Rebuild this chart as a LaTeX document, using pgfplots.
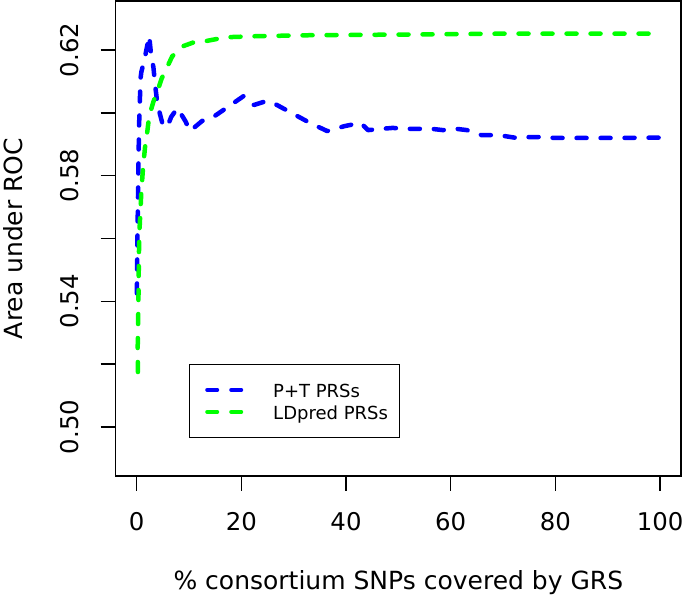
\documentclass[border=0pt]{standalone}
\usepackage{fontspec}
\setmainfont{DejaVu Sans}
\usepackage{pgfplots}
\pgfplotsset{compat=1.18}
\definecolor{rblue}{RGB}{0,0,255}
\definecolor{rgreen}{RGB}{0,255,0}
\begin{document}
\fontsize{12.2}{14}\selectfont
\begin{tikzpicture}
\begin{axis}[
  name=ax,
  at={(0,0)}, anchor=south west,
  scale only axis, width=282.65pt, height=237.5pt,
  xmin=-4, xmax=104, ymin=0.4844, ymax=0.6356,
  axis line style={line width=0.75pt},
  every tick/.style={line width=0.75pt, black},
  major tick length=7.5pt, tick align=outside, tick pos=left,
  xtick={0,20,40,60,80,100}, xticklabels={0,20,40,60,80,100},
  ytick={0.50,0.52,0.54,0.56,0.58,0.60,0.62},
  yticklabels={0.50,,0.54,,0.58,,0.62},
  xticklabel style={anchor=base, inner sep=0pt, yshift=-19.5pt},
  yticklabel style={rotate=90, anchor=base, inner sep=0pt, yshift=11pt},
  xlabel={\% consortium SNPs covered by GRS},
  ylabel={Area under ROC},
  xlabel style={at={(axis description cs:0.5,0)}, anchor=base, inner sep=0pt, yshift=-57pt, font=\fontsize{12.5}{14}\selectfont},
  ylabel style={at={(axis description cs:0,0.5)}, anchor=base, inner sep=0pt, yshift=46.35pt, font=\fontsize{12.5}{14}\selectfont},
  legend style={at={(axis cs:10.05,0.5201)}, anchor=north west, draw=black, line width=0.5pt,
    fill=white, inner xsep=4pt, inner ysep=7.75pt, row sep=1pt, column sep=6.5pt,
    font=\fontsize{9}{11}\selectfont,
    nodes={inner xsep=2pt, inner ysep=0pt, text height=9pt, text depth=1pt}},
  legend cell align=left,
  legend image code/.code={\path[draw=none] (0pt,0pt) -- (4.75pt,0pt);\draw[#1, line width=2pt] (4.75pt,0pt) -- (21.75pt,0pt);},
]
\addplot[rblue, line width=2.25pt, line cap=round, line join=round, dash pattern=on 5pt off 7pt] coordinates {
(0.05,0.5425) (0.15,0.560) (0.3,0.578) (0.45,0.595) (0.6,0.603) (0.75,0.611) (0.9,0.613)
(1.6,0.6178) (2.4,0.6245) (2.8,0.6178) (3.2,0.6146) (3.6,0.6079) (3.95,0.6031) (4.5,0.5993)
(5.1,0.5955) (6.0,0.5961) (6.6,0.5987) (7.8,0.6015) (9.3,0.5974) (10.2,0.5942) (12.5,0.5974)
(14.4,0.5984) (20.5,0.6054) (22.4,0.6025) (24.9,0.6038) (26.8,0.6025) (33.1,0.5968)
(36.4,0.5942) (39.8,0.5958) (42.8,0.5968) (44.2,0.5945) (46.8,0.5949) (48.9,0.5952)
(51.6,0.5949) (56.4,0.5949) (58.5,0.5945) (61.1,0.5949) (63.1,0.5945) (65.9,0.5929)
(67.8,0.5929) (70.3,0.5926) (72.6,0.5920) (75.1,0.5923) (77.4,0.5923) (79.8,0.5920)
(90,0.5920) (100,0.5921)
};
\addlegendentry{\hspace{6.5pt}P+T PRSs}
\addplot[rgreen, line width=2.25pt, line cap=round, line join=round, dash pattern=on 5pt off 7pt] coordinates {
(0.25,0.5175) (0.2,0.525) (0.3,0.535) (0.38,0.545) (0.42,0.553) (0.5,0.561) (0.7,0.568)
(0.9,0.575) (1.2,0.582) (1.6,0.589) (2.0,0.5935) (2.4,0.599) (3.2,0.6035) (4.2,0.608)
(4.8,0.611) (6.1,0.6155) (6.8,0.618) (9.0,0.6213) (11,0.6225) (13.4,0.6229) (15.3,0.6235)
(17.7,0.6241) (23,0.6244) (33,0.6247) (50,0.6249) (70,0.6252) (100,0.6252)
};
\addlegendentry{\hspace{6.5pt}LDpred PRSs}
\end{axis}
\pgfresetboundingbox
\path ([shift={(-57.85pt,-61pt)}]ax.south west) rectangle ([shift={(2pt,0.5pt)}]ax.north east);
\end{tikzpicture}
\end{document}
